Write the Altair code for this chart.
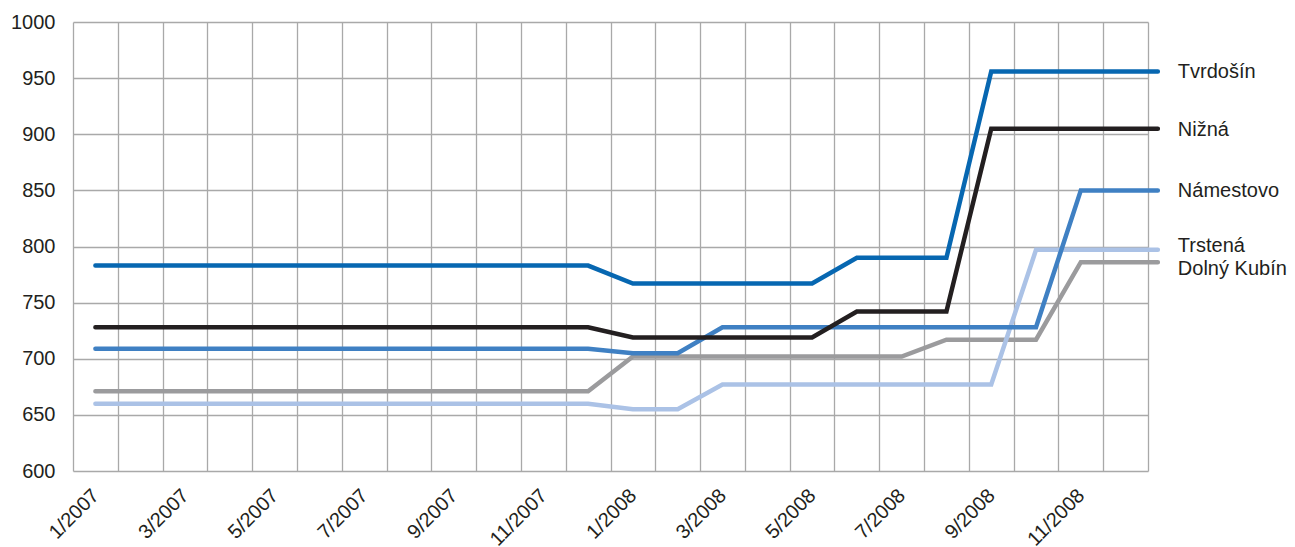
import altair as alt
import pandas as pd

MONTHS = ["1/2007", "2/2007", "3/2007", "4/2007", "5/2007", "6/2007",
          "7/2007", "8/2007", "9/2007", "10/2007", "11/2007", "12/2007",
          "1/2008", "2/2008", "3/2008", "4/2008", "5/2008", "6/2008",
          "7/2008", "8/2008", "9/2008", "10/2008", "11/2008", "12/2008"]

SERIES = ["Tvrdošín", "Nižná", "Námestovo", "Trstená", "Dolný Kubín"]
COLORS = ["#0767b1", "#231f20", "#3f80c3", "#abc2e6", "#9b9b9d"]

TVRDOSIN = [783, 783, 783, 783, 783, 783, 783, 783, 783, 783, 783, 783,
            767, 767, 767, 767, 767, 790, 790, 790, 956, 956, 956, 956]
NIZNA = [728, 728, 728, 728, 728, 728, 728, 728, 728, 728, 728, 728,
         719, 719, 719, 719, 719, 742, 742, 742, 905, 905, 905, 905]
NAMESTOVO = [709, 709, 709, 709, 709, 709, 709, 709, 709, 709, 709, 709,
             705, 705, 728, 728, 728, 728, 728, 728, 728, 728, 850, 850]
TRSTENA = [660, 660, 660, 660, 660, 660, 660, 660, 660, 660, 660, 660,
           655, 655, 677, 677, 677, 677, 677, 677, 677, 797, 797, 797]
DOLNY_KUBIN = [671, 671, 671, 671, 671, 671, 671, 671, 671, 671, 671, 671,
               702, 702, 702, 702, 702, 702, 702, 717, 717, 717, 786, 786]

VALUES = {
    "Tvrdošín": TVRDOSIN,
    "Nižná": NIZNA,
    "Námestovo": NAMESTOVO,
    "Trstená": TRSTENA,
    "Dolný Kubín": DOLNY_KUBIN,
}

Y_TICKS = [600, 650, 700, 750, 800, 850, 900, 950, 1000]

# end of the connector that runs from the last month to the series label
LINE_END = 23.72
DRAW_ORDER = ["Dolný Kubín", "Trstená", "Námestovo", "Nižná", "Tvrdošín"]

rows = []
for name in DRAW_ORDER:
    vals = VALUES[name]
    for i, v in enumerate(vals):
        rows.append({"idx": float(i), "value": v, "series": name})
    rows.append({"idx": LINE_END, "value": vals[-1], "series": name})
df = pd.DataFrame(rows)

lab = pd.DataFrame([{"idx": LINE_END, "value": VALUES[n][-1], "series": n} for n in SERIES])

FONT = "Liberation Sans"
GRID = "#a9a9a9"
TEXT = "#231f20"

X_SCALE = alt.Scale(domain=[-0.5, 23.5], nice=False, zero=False)
Y_SCALE = alt.Scale(domain=[600, 1000], nice=False, zero=False)

grid_values = [i - 0.5 for i in range(25)]
label_values = [i for i in range(len(MONTHS)) if i % 2 == 0]
label_expr = ""
for i in label_values:
    label_expr += f"datum.value == {i} ? '{MONTHS[i]}' : "
label_expr += "''"


def y_axis():
    return alt.Axis(
        values=Y_TICKS,
        format="d",
        title=None,
        grid=True,
        gridColor=GRID,
        gridWidth=1.3,
        ticks=False,
        domain=False,
        labelPadding=18,
        labelFont=FONT,
        labelFontSize=20,
        labelColor=TEXT,
    )


grid_layer = alt.Chart(df).mark_line(opacity=0).encode(
    x=alt.X("idx:Q", scale=X_SCALE, axis=alt.Axis(
        values=grid_values, orient="bottom", title=None, grid=True, gridColor=GRID,
        gridWidth=1.3, labels=False, ticks=False, domain=False)),
    y=alt.Y("value:Q", scale=Y_SCALE, axis=y_axis()),
    detail="series:N",
)

lines = alt.Chart(df).mark_line(strokeWidth=4.5, strokeCap="round", clip=False).encode(
    x=alt.X("idx:Q", scale=X_SCALE, axis=alt.Axis(
        values=label_values,
        orient="bottom",
        title=None,
        grid=False,
        ticks=False,
        domain=False,
        labelExpr=label_expr,
        labelAngle=-45,
        labelAlign="right",
        labelBaseline="top",
        labelPadding=14,
        labelOffset=-7,
        labelFont=FONT,
        labelFontSize=20,
        labelColor=TEXT,
    )),
    y=alt.Y("value:Q", scale=Y_SCALE, axis=y_axis()),
    color=alt.Color("series:N", scale=alt.Scale(domain=SERIES, range=COLORS), legend=None),
    detail="series:N",
)


def label_layer(names, dy):
    return alt.Chart(lab).transform_filter(
        alt.FieldOneOfPredicate(field="series", oneOf=names)
    ).mark_text(
        align="left", baseline="middle", dx=20, dy=dy, font=FONT, fontSize=20, color=TEXT, clip=False
    ).encode(
        x=alt.X("idx:Q", scale=X_SCALE, axis=None),
        y=alt.Y("value:Q", scale=Y_SCALE, axis=y_axis()),
        text="series:N",
    )


chart = alt.layer(
    grid_layer,
    lines,
    label_layer(["Tvrdošín", "Nižná", "Námestovo"], 1),
    label_layer(["Trstená"], -4),
    label_layer(["Dolný Kubín"], 7),
).resolve_axis(x="independent").properties(
    width=1075,
    height=449,
    autosize=alt.AutoSizeParams(type="none"),
    padding={"left": 73, "top": 22, "right": 147, "bottom": 76},
    background="white",
).configure_view(stroke=None)

chart.save("out.html", embed_options={"renderer": "svg", "actions": False})
